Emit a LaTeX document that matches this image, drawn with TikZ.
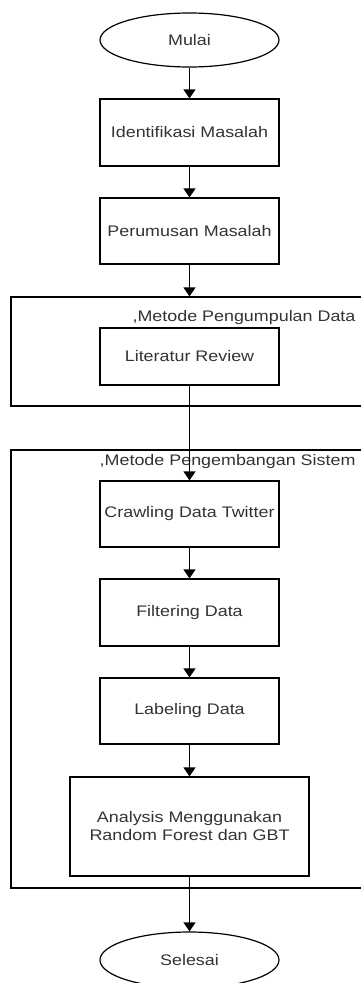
\documentclass[tikz,border=0pt]{standalone}
\usepackage{fontspec}
\setmainfont{Liberation Sans}[FakeStretch=1.17]
\usetikzlibrary{shapes.geometric,arrows.meta}
\begin{document}
\begin{tikzpicture}[x=1pt,y=-1pt,
  every node/.style={font=\fontsize{15.3}{18}\selectfont, text=black!80},
  stepbox/.style={draw=black, line width=1.2pt, minimum width=179pt, align=center, inner sep=0pt},
  term/.style={ellipse, draw=black, line width=1.2pt, minimum width=179pt, inner sep=0pt},
  frame/.style={draw=black, line width=1.2pt, inner sep=0pt},
  flow/.style={draw=black, line width=1.2pt, -{Triangle[length=9pt,width=12pt]}}]
\clip (0,0) rectangle (361,983);
\useasboundingbox (0,0) rectangle (361,983);
\fill[white] (0,0) rectangle (361,983);
\node[term, minimum height=54pt] (mulai) at (189.5,40) {Mulai};
\node[stepbox, minimum height=67pt] (ident) at (189.5,132.5) {Identifikasi Masalah};
\node[stepbox, minimum height=66pt] (perum) at (189.5,231) {Perumusan Masalah};
\node[frame, minimum width=389pt, minimum height=109pt] (c1) at (205.5,351.5) {};
\node[anchor=east] (l1) at (359,318) {,Metode Pengumpulan Data};
\node[stepbox, minimum height=57pt] (lit) at (189.5,356.5) {Literatur Review};
\node[frame, minimum width=389pt, minimum height=438pt] (c2) at (205.5,669) {};
\node[anchor=east] (l2) at (359,462) {,Metode Pengembangan Sistem};
\node[stepbox, minimum height=66pt] (crawl) at (189.5,514) {Crawling Data Twitter};
\node[stepbox, minimum height=67pt] (filt) at (189.5,612.5) {Filtering Data};
\node[stepbox, minimum height=66pt] (label) at (189.5,711) {Labeling Data};
\node[stepbox, minimum width=239pt, minimum height=99pt] (anal) at (189.5,826.5) {Analysis Menggunakan\\Random Forest dan GBT};
\node[term, minimum height=56pt] (selesai) at (189.5,960) {Selesai};
\draw[flow] (mulai) -- (ident);
\draw[flow] (ident) -- (perum);
\draw[flow] (perum.south) -- (perum.south |- c1.north);
\draw[flow] (lit) -- (crawl);
\draw[flow] (crawl) -- (filt);
\draw[flow] (filt) -- (label);
\draw[flow] (label) -- (anal);
\draw[flow] (anal) -- (selesai);
\end{tikzpicture}
\end{document}
